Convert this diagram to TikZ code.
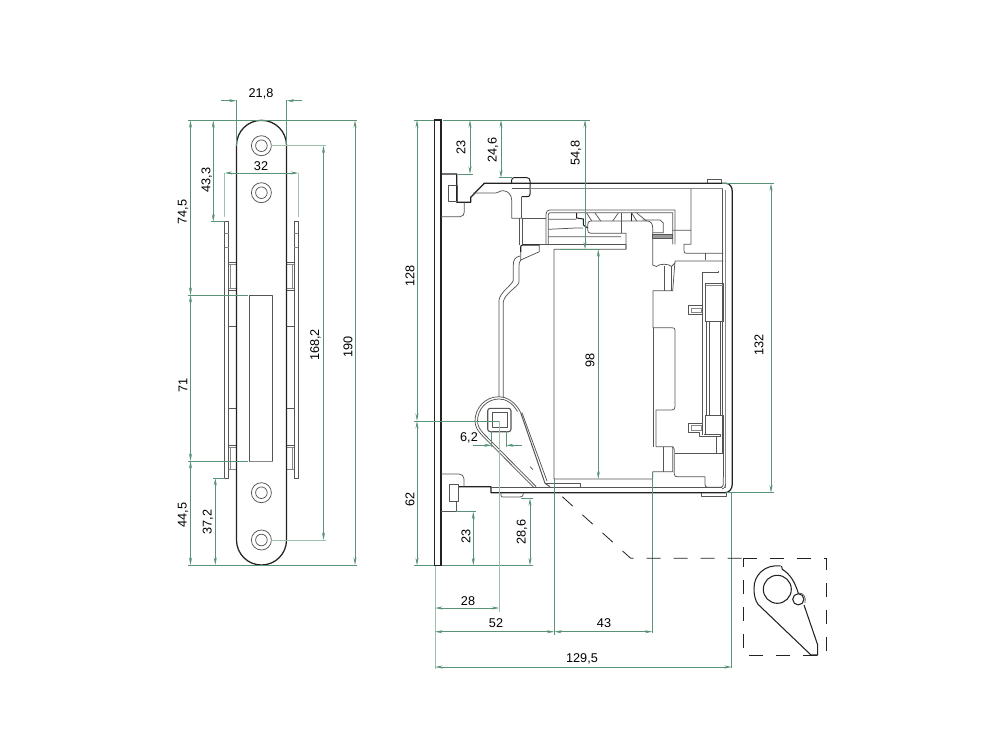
\documentclass[tikz,border=0pt]{standalone}
\usepackage{fontspec}
\setmainfont{Liberation Sans}
\usetikzlibrary{arrows.meta}
\definecolor{dimgreen}{HTML}{5A9478}
\definecolor{palegreen}{HTML}{9CC2AE}
\definecolor{ink}{HTML}{222222}
\definecolor{midink}{HTML}{555555}
\tikzset{
  outline/.style={draw=ink,line width=1.25pt,line join=round},
  fine/.style={draw=midink,line width=0.75pt,line join=round},
  faint/.style={draw=midink!70,line width=0.55pt},
  dimline/.style={draw=dimgreen,line width=0.7pt,{Stealth[length=7.5pt,width=3pt]}-{Stealth[length=7.5pt,width=3pt]}},
  dimone/.style={draw=dimgreen,line width=0.7pt,-{Stealth[length=7.5pt,width=3pt]}},
  extline/.style={draw=dimgreen,line width=0.7pt},
  extpale/.style={draw=palegreen,line width=0.9pt},
  lab/.style={font=\fontsize{12.7}{14}\selectfont,text=black,inner sep=0pt},
  vlab/.style={lab,rotate=90},
  leader/.style={draw=ink,line width=0.8pt,dash pattern=on 14pt off 13pt},
}
\newcommand{\sideplt}{%
  \path[fine] (224.7,221.7) rectangle (228.7,478);
  \path[faint] (224.7,233) -- (228.7,233) (224.7,247) -- (228.7,247);
  \path[fine] (228.7,262.7) -- (236.5,262.7) (228.7,290) -- (236.5,290);
  \path[faint] (228.7,264.5) -- (236.5,264.5) (228.7,288) -- (236.5,288) (230.3,264.5) -- (230.3,288);
  \path[fine] (228.7,326) -- (236.5,326) (228.7,408.7) -- (236.5,408.7) (228.7,445) -- (236.5,445);
  \path[faint] (228.7,447) -- (236.5,447) (230.3,447) -- (230.3,469) (228.7,469) -- (236.5,469);
}
\begin{document}
\begin{tikzpicture}[x=1pt,y=-1pt]
\useasboundingbox (0,0) rectangle (1000,750);
\fill[white] (0,0) rectangle (1000,750);

% ---------- front view ----------
\sideplt
\begin{scope}[shift={(523,0)},xscale=-1]\sideplt\end{scope}
\path[outline] (236.5,145.3) arc[start angle=180,end angle=0,radius=25pt] -- (286.5,540) arc[start angle=0,end angle=-180,radius=25pt] -- cycle;
\path[fine] (249.7,295) rectangle (272.7,461);
\path[faint] (249.7,461) -- (272.7,461);
\foreach \hy in {145.7,192.7,492.7,540}{
  \path[fine] (261.4,\hy) circle[radius=10pt];
  \path[fine] (261.4,\hy) circle[radius=5.8pt];
}

% ---------- front view dimensions ----------
\path[extline] (236.5,100) -- (236.5,146) (286.5,100) -- (286.5,146);
\path[dimone] (221,100.7) -- (236.5,100.7);
\path[dimone] (302,100.7) -- (286.5,100.7);
\path[extline] (188,120.3) -- (357,120.3) (188,565) -- (357,565);
\path[extline] (188,295) -- (248,295) (188,461) -- (248,461);
\path[dimline] (190.5,120.3) -- (190.5,295);
\path[dimline] (190.5,295) -- (190.5,461);
\path[dimline] (190.5,461) -- (190.5,565);
\path[dimline] (355,120.3) -- (355,565);
\path[extline] (211,221.7) -- (224.7,221.7) (213,478) -- (224.7,478);
\path[dimline] (213.3,120.3) -- (213.3,221.7);
\path[dimline] (215.3,478) -- (215.3,565);
\path[extpale] (224.7,173) -- (224.7,217) (298.3,173) -- (298.3,217);
\path[dimline] (224.7,173) -- (298.3,173);
\path[extpale] (271,145.7) -- (326,145.7) (271,540) -- (326,540);
\path[dimline] (323.5,145.7) -- (323.5,540);

\node[lab] (f218) at (261,94) {21,8};
\node[lab] (f32) at (261,166) {32};
\node[vlab] (f433) at (206.7,180) {43,3};
\node[vlab] (f745) at (183,212) {74,5};
\node[vlab] (f71) at (183,385) {71};
\node[vlab] (f445) at (183,515) {44,5};
\node[vlab] (f372) at (208,522) {37,2};
\node[vlab] (f1682) at (315.5,345) {168,2};
\node[vlab] (f190) at (348,347) {190};

% ---------- side view: face plate and case ----------
\path[draw=ink,line width=1.3pt] (434.6,120) rectangle (441,565.5);

\path[outline] (441,174) -- (456.7,174) -- (456.7,202.3) -- (470.7,202.3) -- (470.7,197.3) -- (484.3,183.3) -- (726,183.3)
  .. controls (730,183.3) and (732.3,187) .. (732.3,192) -- (732.3,484)
  .. controls (732.3,489) and (729,492.7) .. (725,492.7) -- (491,492.7) -- (491,486.7) -- (458.3,486.7);
\path[fine] (448.3,185) rectangle (457.3,201);
\path[fine] (441,216.7) -- (460,216.7) .. controls (463,216.7) and (464.3,214.5) .. (464.3,211.7) -- (464.3,202.3);
\path[fine] (473,193) -- (495.7,193) .. controls (499,193) and (499,190.7) .. (503,190.7)
  .. controls (508,190.7) and (511.7,195) .. (511.7,200) -- (511.7,218.3) -- (522.7,218.3);
\path[outline,line width=1pt] (511.7,183.3) -- (511.7,180) .. controls (511.7,178.5) and (513,177.7) .. (514,177.7) -- (527,177.7) .. controls (529,177.7) and (530,179) .. (530,181) -- (530,194) .. controls (530,196) and (529,196.7) .. (527,196.7) -- (521.7,196.7);
\path[fine] (511.7,188.3) -- (530,188.3);
\path[draw=midink,line width=1.1pt] (521.7,196.7) -- (521.7,218.3);
\path[fine] (519,218.3) -- (519,245) (522.7,218.3) -- (522.7,245);
\path[fine] (522.7,218.3) -- (546,218.3);
\path[fine] (546,245) -- (546,214) .. controls (546,212) and (547.5,210) .. (549.5,210) -- (675,210) -- (675,244.3);
\path[faint] (530,188.7) -- (722.7,188.7);
\path[fine] (548.3,245) -- (548.3,215) .. controls (548.3,213.5) and (549,212.7) .. (550.5,212.7) -- (672.7,212.7) -- (672.7,244.3);
\path[fine] (548.3,219.3) -- (576,219.3) (548.3,229.3) -- (576,228) -- (583,228) (548.3,236.7) -- (621,236.7);

% latch lines
\path[fine] (522,244.6) -- (626,244.6) -- (626,249.3) -- (554,249.3) -- (554,479) -- (652.7,479) -- (652.7,471.7) -- (672.7,471.7) -- (672.7,446.7) -- (656,446.7) -- (656,410) -- (672,410) .. controls (674,410) and (675,408.5) .. (675,406.7) -- (675,330) .. controls (675,328.5) and (674,327.7) .. (672,327.7) -- (653,327.7) -- (653,290.7) -- (672.7,290.7) -- (675,261) -- (723.3,261);
\path[fine] (626,249.3) -- (626,233.3) -- (591,233.3) .. controls (588.5,233.3) and (587.7,232) .. (587.7,230) -- (587.7,224.5) .. controls (587.7,222) and (589,221) .. (591,221) -- (647,221) .. controls (651,221) and (652.7,224) .. (652.7,228) -- (652.7,265) -- (656.5,266.5) .. controls (659,263.5) and (669,263.5) .. (671.5,266.5) -- (675,263);
\path[fine] (621,213) -- (621,233.3);
\path[draw=ink,line width=1pt] (631,212.7) -- (631,221);
\path[fine] (642.7,220) -- (660,220) -- (663.3,223) -- (663.3,232.7) -- (652.7,232.7);
\path[fill=midink!60,draw=midink,line width=0.6pt] (652.7,234.3) rectangle (672.7,238.3);
\path[draw=ink,line width=1pt] (576.5,213) -- (576.5,218) -- (583.3,219) -- (583.3,225) -- (587.7,228);
\path[fine] (586.7,213) -- (591.7,221) (595,213) -- (600.7,221) (612.7,221) -- (618.3,213) (631.7,213) -- (636.7,221) (636.7,213) -- (646.7,221);
\path[fine] (664.3,266) -- (664.3,290.7) (671.7,266) -- (671.7,290.7);
\path[fine] (653,327.7) -- (653,447) (663.3,446.7) -- (663.3,471.7);

% right-hand mechanism
\path[fine] (672.7,230.3) -- (691,230.3) (691,188.7) -- (691,244.3) -- (684,244.3) -- (684,251) .. controls (684,252.5) and (685,253.3) .. (686,253.3) -- (723.3,253.3);
\path[fine] (705,253.3) -- (705,260);
\path[fine] (722.7,188.7) -- (722.7,453);
\path[faint] (725.6,190) -- (725.6,488);
\path[fine] (702.3,272.3) -- (718.3,272.3) -- (718.3,270.5) (702.3,272.3) -- (702.3,435);
\path[fine] (705.7,283.5) rectangle (723,321.7);
\path[faint] (705.7,285.5) -- (723,285.5);
\path[fine] (706.7,321.7) -- (706.7,415) (709.3,321.7) -- (709.3,415) (720,321.7) -- (720,415);
\path[fine] (705.7,435) -- (705.7,415) -- (723.3,415) -- (723.3,476.7);
\path[fine] (702.3,305) -- (688.3,305) -- (688.3,314) -- (702.3,314);
\path[faint] (701,308.3) -- (691.7,308.3) -- (691.7,312.3) -- (701,312.3) -- cycle;
\path[fine] (702.3,423.3) -- (688.3,423.3) -- (688.3,432.7) -- (699.3,432.7) -- (699.3,436.7) -- (720,436.7) -- (720,434) -- (704,434);
\path[faint] (701,425.7) -- (691.7,425.7) -- (691.7,430) -- (701,430) -- cycle;
\path[fine] (716,436.7) -- (716,453.3) (675,453.3) -- (723.3,453.3);
\path[fine] (672.7,446.7) .. controls (674,447.5) and (674.3,449) .. (674.3,451) -- (674.3,474) .. controls (674.3,476) and (675.5,476.7) .. (677,476.7) -- (705,476.7);
\path[fine] (705,476.7) -- (705,484.5) .. controls (705,486.5) and (706,487.3) .. (708,487.3) -- (720,487.3) .. controls (722,487.3) and (723.3,486.5) .. (723.3,484.5) -- (723.3,476.7);
\path[fine] (491,487) -- (722,487);
\path[fine] (725.6,484) .. controls (725.6,487) and (724,489) .. (722,489);

% tabs
\path[fine] (707.3,183.3) -- (707.3,179.7) -- (721.7,179.7) -- (721.7,183.3);
\path[fine] (501,492.7) -- (501,495.5) .. controls (501,496.5) and (502,497) .. (503,497) -- (520,497) .. controls (522,497) and (523.3,496) .. (523.3,492.7);
\path[fine] (701.7,492.7) -- (701.7,496.7) -- (726.7,496.7) -- (726.7,492.7);

% lower hook
\path[fine] (449,484.7) rectangle (458.3,501);
\path[fine] (441,511.7) -- (456.7,511.7) -- (456.7,501);
\path[fine] (441,474) -- (459,474) .. controls (462,474) and (464,476) .. (464,479) -- (464,486.7);

% S-shaped spring
\path[draw=ink,line width=1.1pt] (520.7,252) -- (520.7,247) .. controls (520.7,245.5) and (521.5,245) .. (523,245) -- (539.3,245);
\path[fine] (539.3,245) -- (539.3,251.7) -- (520.7,260) -- (520.7,252);
\path[fine] (520,256) .. controls (515,257) and (513.3,260) .. (513.3,265) -- (513.3,280) .. controls (513.3,284) and (500,292) .. (499,300) -- (499,396.7);
\path[fine] (520.7,260) .. controls (519,262) and (519,264) .. (519,267) -- (519,282) .. controls (519,286) and (504,294) .. (503.3,302) -- (503.3,398);

% lever
\path[fine] (520.7,412.7) -- (519,409.5) .. controls (513,400) and (505,396.7) .. (499,396.7)
  .. controls (485,396.7) and (475,408) .. (475,421) .. controls (475,427) and (478,431) .. (482.7,436) -- (533.3,487);
\path[fine] (517.5,411.5) .. controls (512,402) and (505,399) .. (499,399)
  .. controls (487,399) and (477.5,409) .. (477.5,421) .. controls (477.5,426) and (480,430) .. (484.5,434.5) -- (536,486.5);
\path[draw=midink,line width=1pt] (520.7,412.7) -- (545,483.3) -- (550,486.7);
\path[fine] (522,412.7) -- (547,481);
\path[fine] (545,483.3) -- (580,483.3) -- (580,486.7);
\path[fine] (530,466.7) -- (533,469.7);
\path[draw=midink,line width=1.1pt,rounded corners=2.5pt] (487.7,408.3) rectangle (511,431.7);
\path[fine] (492.3,412.3) rectangle (507.3,427.7);

% ---------- side view dimensions ----------
\path[extline] (414,120) -- (434,120) (443,120) -- (590,120) (414,565.3) -- (434,565.3) (442,565.3) -- (533,565.3);
\path[extline] (414,421) -- (500,421);
\path[dimline] (417,120) -- (417,421);
\path[dimline] (417,421) -- (417,565.3);
\path[extline] (458,174) -- (473,174) (499,177.7) -- (512,177.7);
\path[dimline] (470,120) -- (470,174);
\path[dimline] (501,120) -- (501,177.7);
\path[dimline] (585,120) -- (585,249.3);
\path[extline] (560,249.3) -- (600,249.3);
\path[dimline] (598.3,249.3) -- (598.3,479);
\path[extline] (722,183.5) -- (774,183.5) (726,492.7) -- (774,492.7);
\path[dimline] (771,183.5) -- (771,492.7);
\path[extline] (456,511.7) -- (476,511.7) (521,498.3) -- (532.5,498.3);
\path[dimline] (473.3,511.7) -- (473.3,565.3);
\path[dimline] (530,498.3) -- (530,565.3);
\path[extline] (491.7,431) -- (491.7,447) (506,431) -- (506,447);
\path[dimone] (473.3,445.3) -- (491.7,445.3);
\path[dimone] (521.7,445.3) -- (506,445.3);
\path[extpale] (499.3,421) -- (499.3,612);
\path[extline] (554.3,478) -- (554.3,635) (652.4,472) -- (652.4,633) (731.7,492) -- (731.7,668);
\path[extpale] (435,565.5) -- (435,669);
\path[dimline] (435,608) -- (499.3,608);
\path[dimline] (435,631.7) -- (554.3,631.7);
\path[dimline] (554.3,631.7) -- (652.4,631.7);
\path[dimline] (435,667) -- (731.7,667);

\node[vlab] (s128) at (410,276) {128};
\node[vlab] (s62) at (410,499) {62};
\node[vlab] (s23a) at (461,147) {23};
\node[vlab] (s246) at (493,150) {24,6};
\node[vlab] (s548) at (576,153) {54,8};
\node[vlab] (s98) at (590,360) {98};
\node[vlab] (s132) at (759,345) {132};
\node[vlab] (s23b) at (466,536) {23};
\node[vlab] (s286) at (522,532) {28,6};
\node[lab] (s62b) at (469,438) {6,2};
\node[lab] (s28) at (468,601) {28};
\node[lab] (s52) at (496,623) {52};
\node[lab] (s43) at (604,623) {43};
\node[lab] (s1295) at (582,659) {129,5};

% ---------- detail ----------
\path[leader] (562.3,496.7) -- (630.7,558.3) -- (743,558.3);
\path[leader] (743,558.3) -- (826,558.3) -- (826,655) -- (743,655) -- cycle;
\path[outline,line width=1.05pt] (780.5,566) .. controls (765,564) and (754,575) .. (754,588) .. controls (754,595) and (755,600) .. (758,604.3) -- (811,655) -- (817.7,655) -- (817.7,645) -- (804,605);
\path[outline,line width=1.05pt] (798.3,593.3) .. controls (795,582) and (790,574) .. (782.3,569.3) -- (781.5,566);
\path[outline,line width=1.05pt] (777.3,589.3) circle[radius=14pt];
\path[outline,line width=1.05pt] (798.3,599.3) circle[radius=5.6pt];
\path[fine] (798.5,593) .. controls (804,593) and (806,597) .. (805,603);
\end{tikzpicture}
\end{document}
